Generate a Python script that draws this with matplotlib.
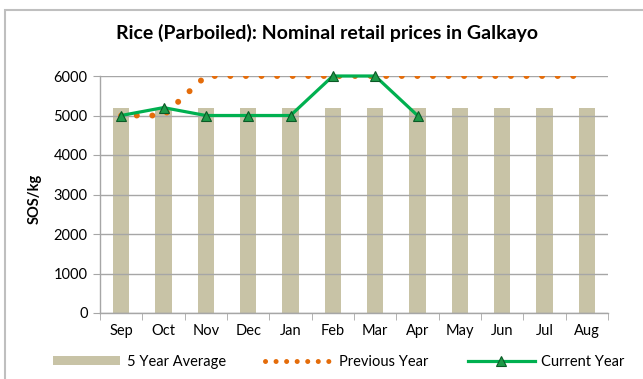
import matplotlib
matplotlib.use('Agg')
import matplotlib.pyplot as plt
from matplotlib.patches import Patch, Rectangle
from matplotlib.lines import Line2D
import numpy as np

months = ['Sep', 'Oct', 'Nov', 'Dec', 'Jan', 'Feb', 'Mar', 'Apr', 'May', 'Jun', 'Jul', 'Aug']
five_year_avg = [5200, 5200, 5200, 5200, 5200, 5200, 5200, 5200, 5200, 5200, 5200, 5200]
previous_year = [5000, 5000, 6000, 6000, 6000, 6000, 6000, 6000, 6000, 6000, 6000, 6000]
current_year = [5000, 5200, 5000, 5000, 5000, 6000, 6000, 5000]

plt.rcParams['font.family'] = ['Lato', 'DejaVu Sans']

bar_color = '#C8C3A6'
orange = '#E46C0A'
green = '#00B050'
grid_gray = '#A6A6A6'

fig = plt.figure(figsize=(6.43, 3.79), dpi=100)
ax = fig.add_axes([100 / 643, 1 - 313 / 379, 508 / 643, (313 - 76) / 379])

x = np.arange(len(months))
ax.bar(x, five_year_avg, width=0.38, color=bar_color, zorder=1)

# dotted previous-year line, clipped at the top of the plot area
ax.plot(x, previous_year, color=orange, lw=4.3, linestyle=(0, (0.01, 2.6)),
        dash_capstyle='round', zorder=2)

ax.plot(np.arange(len(current_year)), current_year, color=green, lw=2.3,
        marker='^', markersize=7.5, markerfacecolor='#1E9A48',
        markeredgecolor='#0B5A26', markeredgewidth=0.8, clip_on=False, zorder=3)

ax.set_xlim(-0.5, len(months) - 0.5)
ax.set_ylim(0, 6000)
ax.set_yticks(range(0, 6001, 1000))
ax.set_xticks(x)
ax.set_xticklabels(months)
ax.set_xticks(np.arange(-0.5, len(months), 1), minor=True)
ax.tick_params(axis='x', which='major', length=0, pad=8, labelsize=10.5)
ax.tick_params(axis='x', which='minor', length=5, color=grid_gray, direction='out')
ax.tick_params(axis='y', length=5, color=grid_gray, direction='out', pad=4, labelsize=10.5)

ax.set_axisbelow('line')
ax.yaxis.grid(True, color=grid_gray, lw=1)
for side in ['top', 'right']:
    ax.spines[side].set_visible(False)
for side in ['left', 'bottom']:
    ax.spines[side].set_color(grid_gray)
    ax.spines[side].set_linewidth(1)

fig.text(35 / 643, 1 - 199 / 379, 'SOS/kg', rotation=90, fontsize=10.5,
         fontweight='bold', ha='center', va='center')
fig.text(327 / 643, 1 - 33 / 379, 'Rice (Parboiled): Nominal retail prices in Galkayo',
         fontsize=14, fontweight='bold', ha='center', va='center')

handles = [
    Patch(facecolor=bar_color, edgecolor='none'),
    Line2D([], [], color=orange, lw=3.6, linestyle=(0, (0.01, 2.1)), dash_capstyle='round'),
    Line2D([], [], color=green, lw=2.3, marker='^', markersize=7.5,
           markerfacecolor='#1E9A48', markeredgecolor='#0B5A26', markeredgewidth=0.8),
]
fig.legend(handles, ['5 Year Average', 'Previous Year', 'Current Year'],
           loc='center', bbox_to_anchor=(339 / 643, 1 - 362 / 379), ncol=3,
           frameon=False, fontsize=10.5, handlelength=4.6, handletextpad=0.45,
           columnspacing=2.7, numpoints=1, handleheight=0.6)

# chart border
fig.patches.append(Rectangle((5 / 643, -0.1), 1.1, 1.1 - 10 / 379,
                             transform=fig.transFigure, fill=False,
                             edgecolor='#BFBFBF', lw=1.5))

fig.savefig('out.png', dpi=100)
plt.close(fig)
